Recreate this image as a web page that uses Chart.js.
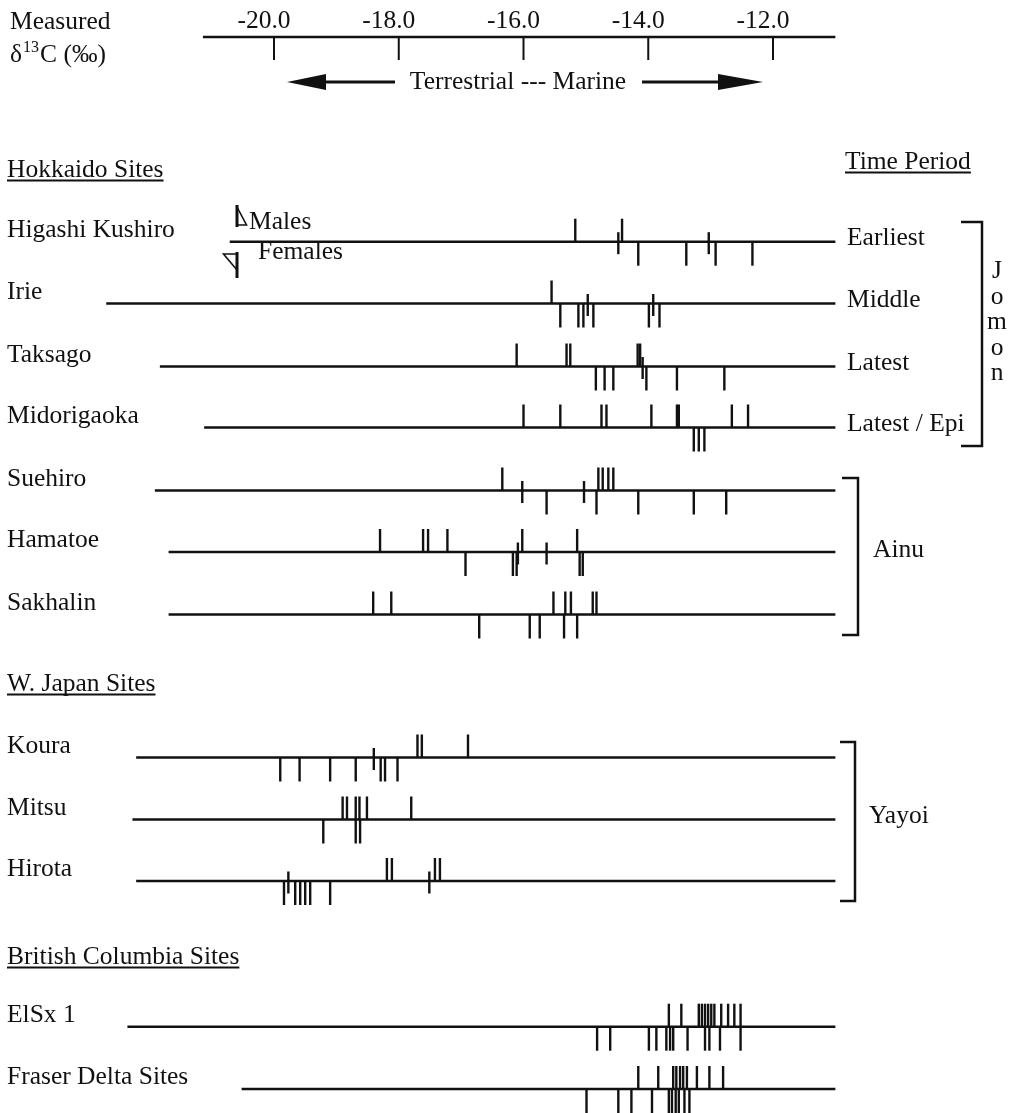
<!DOCTYPE html>
<html>
<head>
<meta charset="utf-8">
<script src="https://cdn.jsdelivr.net/npm/chart.js@4.4.0/dist/chart.umd.min.js"></script>
<style>
  html, body { margin: 0; padding: 0; background: #fff; }
  #wrap { width: 1023px; height: 1113px; }
</style>
</head>
<body>
<div id="wrap"><canvas id="chart" width="1023" height="1113"></canvas></div>
<script>
const sites = ['Higashi Kushiro', 'Irie', 'Taksago', 'Midorigaoka', 'Suehiro', 'Hamatoe', 'Sakhalin',
               'Koura', 'Mitsu', 'Hirota', 'ElSx 1', 'Fraser Delta Sites'];
const periods = ['Earliest', 'Middle', 'Latest', 'Latest / Epi'];
const axisTicks = [-20, -18, -16, -14, -12];
const axisRange = [-21.14, -11.0];
const lineStart = [-20.71, -22.69, -21.83, -21.12, -21.91, -21.69, -21.69, -22.21, -22.27, -22.21, -22.35, -20.52];
const lineEnd = -11.0;

const males = [
  [-15.17, -14.42],
  [-15.55],
  [-16.11, -15.31, -15.25, -14.17, -14.13],
  [-16.00, -15.41, -14.75, -14.67, -13.95, -13.54, -13.51, -12.66, -12.40],
  [-16.34, -14.80, -14.73, -14.64, -14.56],
  [-18.30, -17.61, -17.53, -17.22, -16.02, -15.14],
  [-18.41, -18.12, -15.52, -15.33, -15.24, -14.89, -14.83],
  [-17.70, -17.63, -16.89],
  [-18.90, -18.83, -18.69, -18.63, -18.51, -17.80],
  [-18.19, -18.11, -17.42, -17.34],
  [-13.67, -13.47, -13.19, -13.14, -13.09, -13.04, -12.99, -12.94, -12.83, -12.72, -12.62, -12.52],
  [-14.16, -13.84, -13.60, -13.55, -13.49, -13.44, -13.38, -13.22, -13.02, -12.80]
];
const females = [
  [-14.16, -13.39, -12.92, -12.33],
  [-15.41, -15.12, -15.04, -14.88, -13.99, -13.82],
  [-14.84, -14.70, -14.56, -14.03, -13.54, -12.78],
  [-13.27, -13.19, -13.10],
  [-15.63, -14.83, -14.16, -13.27, -12.75],
  [-16.93, -16.17, -16.11, -15.10, -15.05],
  [-16.71, -15.90, -15.74, -15.35, -15.14],
  [-19.90, -19.59, -19.10, -18.69, -18.29, -18.22, -18.02],
  [-19.21, -18.69, -18.62],
  [-19.84, -19.66, -19.58, -19.50, -19.42, -19.10],
  [-14.82, -14.61, -13.99, -13.87, -13.71, -13.65, -13.60, -13.37, -13.09, -13.02, -12.85, -12.52],
  [-14.99, -14.48, -14.27, -13.94, -13.67, -13.62, -13.56, -13.51, -13.42, -13.34]
];
// ticks drawn straddling the line
const unsexed = [
  [-14.48, -13.03],
  [-14.97, -13.92],
  [-14.09],
  [],
  [-16.02, -15.03],
  [-16.09, -15.63],
  [],
  [-18.40],
  [],
  [-19.77, -17.51],
  [],
  []
];

// layout (page pixels on the y scale)
const rowY = [241.7, 303.5, 366.5, 427.5, 490.5, 552, 614.5, 757.5, 819.5, 881, 1026.7, 1089];
const axisY = 37;
const ink = '#111';
const serif = '"Liberation Serif", "Times New Roman", serif';

const datasets = [];

// top axis line + hanging ticks
datasets.push({
  data: axisRange.map(v => ({ x: v, y: axisY })),
  showLine: true, borderColor: ink, borderWidth: 2.5, pointRadius: 0
});
datasets.push({
  data: axisTicks.map(v => ({ x: v, y: axisY + 11.5 })),
  pointStyle: 'line', pointRotation: 90, pointRadius: 11.5,
  pointBorderWidth: 2, pointBorderColor: ink
});

// one baseline per site
sites.forEach((s, i) => {
  datasets.push({
    label: s,
    data: [{ x: lineStart[i], y: rowY[i] }, { x: lineEnd, y: rowY[i] }],
    showLine: true, borderColor: ink, borderWidth: 2.5, pointRadius: 0
  });
});

function tickSet(values, dy, r) {
  const pts = [];
  values.forEach((row, i) => row.forEach(v => pts.push({ x: v, y: rowY[i] + dy })));
  return {
    data: pts, pointStyle: 'line', pointRotation: 90, pointRadius: r,
    pointHoverRadius: r, pointBorderWidth: 2.4, pointBorderColor: ink
  };
}
datasets.push(tickSet(males, -11.5, 11.5));
datasets.push(tickSet(females, 12, 12));
datasets.push(tickSet(unsexed, 1.5, 11));

function underline(ctx, text, x, y) {
  const w = ctx.measureText(text).width;
  ctx.fillText(text, x, y);
  ctx.beginPath();
  ctx.moveTo(x, y + 3.5);
  ctx.lineTo(x + w, y + 3.5);
  ctx.stroke();
}

function bracket(ctx, x0, x1, top, bottom) {
  ctx.beginPath();
  ctx.moveTo(x0, top);
  ctx.lineTo(x1, top);
  ctx.lineTo(x1, bottom);
  ctx.lineTo(x0, bottom);
  ctx.stroke();
}

const figText = {
  id: 'figText',
  beforeDraw(chart) {
    const ctx = chart.ctx;
    ctx.save();
    ctx.fillStyle = '#fff';
    ctx.fillRect(0, 0, chart.width, chart.height);
    ctx.restore();
  },
  afterDatasetsDraw(chart) {
    const ctx = chart.ctx;
    const xs = chart.scales.x, ys = chart.scales.y;
    ctx.save();
    ctx.fillStyle = ink;
    ctx.strokeStyle = ink;
    ctx.lineWidth = 2;
    ctx.textBaseline = 'alphabetic';
    ctx.font = '25.5px ' + serif;

    // axis header
    ctx.textAlign = 'left';
    ctx.fillText('Measured', 10, 29);
    ctx.fillText('\u03b4', 10, 62);
    let w = ctx.measureText('\u03b4').width;
    ctx.font = '16px ' + serif;
    ctx.fillText('13', 10 + w + 1, 52);
    const w13 = ctx.measureText('13').width;
    ctx.font = '25.5px ' + serif;
    ctx.fillText('C (\u2030)', 10 + w + w13 + 2, 62);

    ctx.textAlign = 'center';
    axisTicks.forEach(v => {
      ctx.fillText(v.toFixed(1), xs.getPixelForValue(v) - 10, 28);
    });

    // terrestrial / marine arrows
    ctx.fillText('Terrestrial --- Marine', 518, 89);
    ctx.lineWidth = 3;
    ctx.beginPath();
    ctx.moveTo(322, 82); ctx.lineTo(395, 82);
    ctx.moveTo(642, 82); ctx.lineTo(722, 82);
    ctx.stroke();
    ctx.beginPath();
    ctx.moveTo(287, 82); ctx.lineTo(326, 74); ctx.lineTo(326, 90); ctx.closePath();
    ctx.moveTo(763, 82); ctx.lineTo(718, 74); ctx.lineTo(718, 90); ctx.closePath();
    ctx.fill();

    // section headings
    ctx.textAlign = 'left';
    ctx.lineWidth = 2;
    underline(ctx, 'Hokkaido Sites', 7, 177);
    underline(ctx, 'Time Period', 845, 169);
    underline(ctx, 'W. Japan Sites', 7, 691);
    underline(ctx, 'British Columbia Sites', 7, 964);

    // site names
    sites.forEach((s, i) => {
      ctx.fillText(s, 7, ys.getPixelForValue(rowY[i]) - 5);
    });
    // period names
    periods.forEach((p, i) => {
      ctx.fillText(p, 847, ys.getPixelForValue(rowY[i]) + 3);
    });

    // males / females key: flagged ticks
    ctx.fillText('Males', 249, 229);
    ctx.fillText('Females', 258, 259);
    ctx.lineWidth = 3;
    ctx.beginPath();
    ctx.moveTo(237, 205); ctx.lineTo(237, 227);
    ctx.moveTo(237, 252); ctx.lineTo(237, 278);
    ctx.stroke();
    ctx.lineWidth = 1.6;
    ctx.beginPath();
    ctx.moveTo(237, 207); ctx.lineTo(246.5, 225); ctx.lineTo(237, 225);
    ctx.moveTo(237, 254); ctx.lineTo(223.5, 254); ctx.lineTo(237, 270);
    ctx.stroke();

    // group brackets
    ctx.lineWidth = 2.5;
    bracket(ctx, 961, 982, 222, 446);
    bracket(ctx, 842, 858, 478, 635);
    bracket(ctx, 840, 855, 742, 901);
    ctx.textAlign = 'center';
    ['J', 'o', 'm', 'o', 'n'].forEach((c, i) => ctx.fillText(c, 997, 278 + i * 25.5));
    ctx.textAlign = 'left';
    ctx.fillText('Ainu', 873, 557);
    ctx.fillText('Yayoi', 869, 823);
    ctx.restore();
  }
};

new Chart(document.getElementById('chart'), {
  type: 'scatter',
  data: { datasets: datasets },
  options: {
    responsive: false,
    animation: false,
    devicePixelRatio: 1,
    layout: { padding: 0, autoPadding: false },
    plugins: { legend: { display: false }, tooltip: { enabled: false } },
    events: [],
    scales: {
      x: { type: 'linear', display: false, min: -24.393, max: -7.992 },
      y: { type: 'linear', display: false, min: 0, max: 1113, reverse: true }
    }
  },
  plugins: [figText]
});
</script>
</body>
</html>
